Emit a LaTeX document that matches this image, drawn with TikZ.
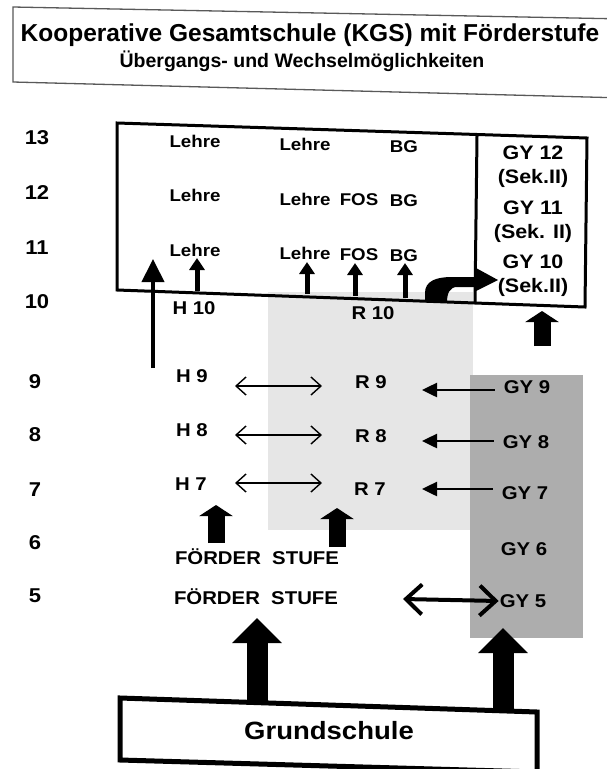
\documentclass[tikz,border=0pt]{standalone}
\usepackage{fontspec}
\setmainfont{Liberation Sans}
\newfontfamily\labfont{Liberation Sans}[FakeStretch=1.1]
\usetikzlibrary{arrows.meta}
\definecolor{lightshade}{HTML}{E6E6E6}
\definecolor{darkshade}{HTML}{ADADAD}
\tikzset{
  lbl/.style={font=\labfont\bfseries\fontsize{17}{19}\selectfont, inner sep=1pt},
  cls/.style={font=\labfont\bfseries\fontsize{18.5}{20}\selectfont, inner sep=1pt},
  num/.style={font=\labfont\bfseries\fontsize{20}{22}\selectfont},
  gy/.style={font=\labfont\bfseries\fontsize{19.5}{21}\selectfont, inner sep=1pt},
  blockbig/.style={line width=21pt, -{Triangle[width=48pt,length=25pt]}},
  blockmid/.style={line width=17pt, -{Triangle[width=33pt,length=11pt]}},
  blocksmall/.style={line width=5pt, -{Triangle[width=15pt,length=12pt]}},
  lefttip/.style={line width=2.5pt, -{Triangle[width=14pt,length=15pt]}},
  openboth/.style={line width=1.4pt, {Straight Barb[length=10pt,width=18pt]}-{Straight Barb[length=10pt,width=18pt]}},
  openthick/.style={line width=4pt, {Straight Barb[length=16pt,width=30pt]}-{Straight Barb[length=16pt,width=30pt]}},
}
\begin{document}
\begin{tikzpicture}[x=1pt,y=-1pt]
\useasboundingbox (0,0) rectangle (606,769);
\fill[white] (0,0) rectangle (606,769);
% title
\draw[line width=1.3pt, black!65] (13,7) -- (625,19) -- (625,98) -- (13,82) -- cycle;
\node[font=\bfseries\fontsize{24.5}{26}\selectfont, anchor=base] (title) at (310,41) {Kooperative Gesamtschule (KGS) mit Förderstufe};
\node[font=\bfseries\fontsize{19.5}{21}\selectfont, anchor=base] (subtitle) at (302,67) {Übergangs- und Wechselmöglichkeiten};
% shading
\fill[lightshade] (268,292) rectangle (473,530);
\fill[darkshade] (470,375) rectangle (583,638);
% row numbers
\foreach \n/\x/\y in {13/37/138,12/37/193,11/37/248,10/37/302,9/35/382,8/35/435,7/35/490,6/35/543,5/35/596}
  \node[num] (n\n) at (\x,\y) {\n};
% main box (slightly skewed as in the scan)
\coordinate (bTL) at (117,123); \coordinate (bTR) at (587,138);
\coordinate (bBR) at (585,307); \coordinate (bBL) at (117,290);
\coordinate (dT) at (477,136); \coordinate (dB) at (475,302);
\draw[line width=3pt, line join=miter] (bTL) -- (bTR) -- (bBR) -- (bBL) -- cycle;
\draw[line width=3pt] (dT) -- (dB);
% upper labels
\node[lbl] (L13a) at (195,141) {Lehre};
\node[lbl] (L12a) at (195,195) {Lehre};
\node[lbl] (L11a) at (195,250) {Lehre};
\node[lbl] (L13b) at (305,144) {Lehre};
\node[lbl] (L12b) at (305,199) {Lehre};
\node[lbl] (L11b) at (305,253) {Lehre};
\node[lbl] (F12) at (359,200) {FOS};
\node[lbl] (F11) at (359,255) {FOS};
\node[lbl] (B13) at (404,147) {BG};
\node[lbl] (B12) at (404,201) {BG};
\node[lbl] (B11) at (404,256) {BG};
\node[gy] (G12) at (533,153) {GY 12};
\node[gy] (S12) at (533,178) {(Sek.II)};
\node[gy] (G11) at (533,208) {GY 11};
\node[gy] (S11) at (533,233) {(Sek. II)};
\node[gy] (G10) at (533,262) {GY 10};
\node[gy] (S10) at (533,287) {(Sek.II)};
% level 10
\node[cls] (H10) at (194,308) {H 10};
\node[cls] (R10) at (373,313) {R 10};
% levels 9-7
\node[cls] (H9) at (192,376) {H 9};
\node[cls] (H8) at (192,430) {H 8};
\node[cls] (H7) at (191,484) {H 7};
\node[cls] (R9) at (371,382) {R 9};
\node[cls] (R8) at (371,436) {R 8};
\node[cls] (R7) at (370,489) {R 7};
\node[cls] (GY9) at (527,387) {GY 9};
\node[cls] (GY8) at (526,442) {GY 8};
\node[cls] (GY7) at (525,493) {GY 7};
\node[cls] (GY6) at (524,549) {GY 6};
\node[cls] (GY5) at (523,601) {GY 5};
\node[cls] (FS6) at (257,557) {FÖRDER\ \ STUFE};
\node[cls] (FS5) at (256,597) {FÖRDER\ \ STUFE};
% Grundschule (box skewed as in the scan)
\coordinate (gTL) at (120,698); \coordinate (gTR) at (537,712);
\coordinate (gBR) at (537,772); \coordinate (gBL) at (120,760);
\draw[line width=5pt, line join=miter] (gTL) -- (gTR) -- (gBR) -- (gBL) -- cycle;
\node[font=\labfont\bfseries\fontsize{25}{27}\selectfont] (GS) at (329,731) {Grundschule};
% arrow coordinates
\coordinate (a1s) at (153,368); \coordinate (a1e) at (153,259);
\coordinate (a2s) at (197,291); \coordinate (a2e) at (197,258);
\coordinate (a3s) at (307,294); \coordinate (a3e) at (307,262);
\coordinate (a4s) at (355,296); \coordinate (a4e) at (355,263);
\coordinate (a5s) at (405,298); \coordinate (a5e) at (405,263);
\coordinate (gs) at (542,346); \coordinate (ge) at (542,311);
\coordinate (h7s) at (216,543); \coordinate (h7e) at (216,505);
\coordinate (r7s) at (337,547); \coordinate (r7e) at (337,508);
\coordinate (gl) at (257,702); \coordinate (gr) at (503,712);
% upward arrows into the top box
\draw[line width=4pt, -{Triangle[width=22pt,length=23pt]}] (a1s) -- (a1e);
\foreach \i in {2,3,4,5} \draw[blocksmall] (a\i s) -- (a\i e);
% curved arrow R10 -> GY10
\fill (425,302) -- (425,293) .. controls (425,281) and (436,277) .. (452,277)
  -- (476,277) -- (476,268) -- (498,280) -- (476,291) -- (476,287) -- (457,287)
  .. controls (450,287) and (447,293) .. (447,302) -- cycle;
\draw[blockmid] (gs) -- (ge);
% horizontal arrows
\draw[openboth] (235,386) -- (322,386);
\draw[openboth] (235,435) -- (322,435);
\draw[openboth] (235,483) -- (322,483);
\draw[lefttip] (GY9.west) ++(-8,3) -- (422,390);
\draw[lefttip] (GY8.west) ++(-8,-1) -- (422,441);
\draw[lefttip] (GY7.west) ++(-8,-4) -- (422,489);
\draw[openthick] (403,599) -- (GY5.west);
% block arrows from below
\draw[blockmid] (h7s) -- (h7e);
\draw[blockmid] (r7s) -- (r7e);
\draw[blockbig] (gl) -- (257,618);
\draw[blockbig] (gr) -- (503,628);
\end{tikzpicture}
\end{document}
